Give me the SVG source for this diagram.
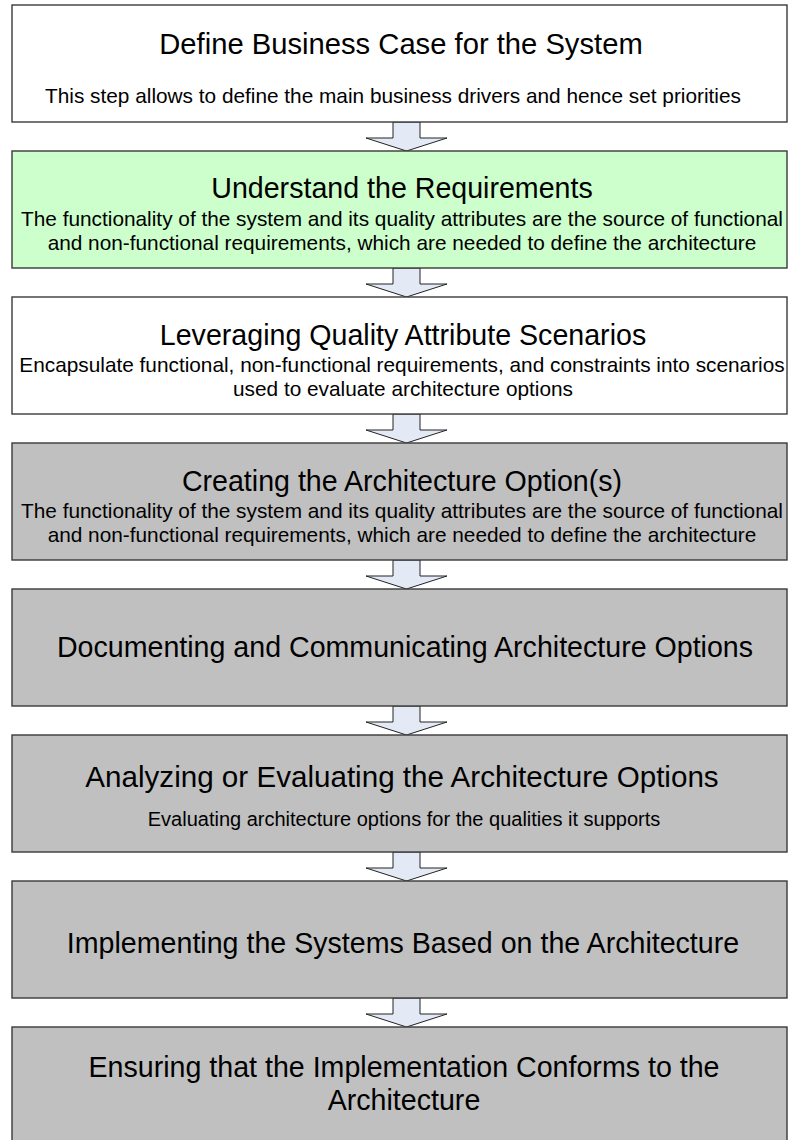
<svg xmlns="http://www.w3.org/2000/svg" width="788" height="1140" viewBox="0 0 788 1140">
<style>
.box{stroke:#3a3a3a;stroke-width:1.4}
.w{fill:#ffffff}
.g{fill:#ccffcc}
.s{fill:#c0c0c0}
.t{font-family:"Liberation Sans",Arial,sans-serif;font-size:28.6px;fill:#000;text-anchor:middle}
.d{font-family:"Liberation Sans",Arial,sans-serif;font-size:20.8px;fill:#000;text-anchor:middle}
.arr{fill:#e4eaf5;stroke:#222;stroke-width:1}
</style>
<rect x="0" y="0" width="788" height="1140" fill="#ffffff"/>
<g id="connectors">
<path class="arr" d="M393,122 L420,122 L420,138 L447,138 L406.5,151 L366,138 L393,138 Z"/>
<path class="arr" d="M393,268 L420,268 L420,284 L447,284 L406.5,297 L366,284 L393,284 Z"/>
<path class="arr" d="M393,414 L420,414 L420,430 L447,430 L406.5,443 L366,430 L393,430 Z"/>
<path class="arr" d="M393,560 L420,560 L420,576 L447,576 L406.5,589 L366,576 L393,576 Z"/>
<path class="arr" d="M393,706 L420,706 L420,722 L447,722 L406.5,735 L366,722 L393,722 Z"/>
<path class="arr" d="M393,852 L420,852 L420,868 L447,868 L406.5,881 L366,868 L393,868 Z"/>
<path class="arr" d="M393,998 L420,998 L420,1014 L447,1014 L406.5,1027 L366,1014 L393,1014 Z"/>
</g>
<g id="n1">
<rect class="box w" x="12" y="5" width="775" height="117"/>
<text class="t" x="401" y="54" style="font-size:29.2px">Define Business Case for the System</text>
<text class="d" x="393" y="103">This step allows to define the main business drivers and hence set priorities</text>
</g>
<g id="n2">
<rect class="box g" x="12" y="151" width="775" height="117"/>
<text class="t" x="402" y="198">Understand the Requirements</text>
<text class="d" x="402" y="226">The functionality of the system and its quality attributes are the source of functional</text>
<text class="d" x="402" y="250">and non-functional requirements, which are needed to define the architecture</text>
</g>
<g id="n3">
<rect class="box w" x="12" y="297" width="775" height="117"/>
<text class="t" x="403" y="345">Leveraging Quality Attribute Scenarios</text>
<text class="d" x="402" y="372">Encapsulate functional, non-functional requirements, and constraints into scenarios</text>
<text class="d" x="403" y="396">used to evaluate architecture options</text>
</g>
<g id="n4">
<rect class="box s" x="12" y="443" width="775" height="117"/>
<text class="t" x="402" y="491">Creating the Architecture Option(s)</text>
<text class="d" x="402" y="518">The functionality of the system and its quality attributes are the source of functional</text>
<text class="d" x="402" y="542">and non-functional requirements, which are needed to define the architecture</text>
</g>
<g id="n5">
<rect class="box s" x="12" y="589" width="775" height="117"/>
<text class="t" x="405" y="657">Documenting and Communicating Architecture Options</text>
</g>
<g id="n6">
<rect class="box s" x="12" y="735" width="775" height="117"/>
<text class="t" x="402" y="787" style="font-size:29.6px">Analyzing or Evaluating the Architecture Options</text>
<text class="d" x="404" y="826" style="font-size:20px">Evaluating architecture options for the qualities it supports</text>
</g>
<g id="n7">
<rect class="box s" x="12" y="881" width="775" height="117"/>
<text class="t" x="403" y="953">Implementing the Systems Based on the Architecture</text>
</g>
<g id="n8">
<rect class="box s" x="12" y="1027" width="775" height="130"/>
<text class="t" x="404" y="1077">Ensuring that the Implementation Conforms to the</text>
<text class="t" x="404" y="1110">Architecture</text>
</g>
</svg>
